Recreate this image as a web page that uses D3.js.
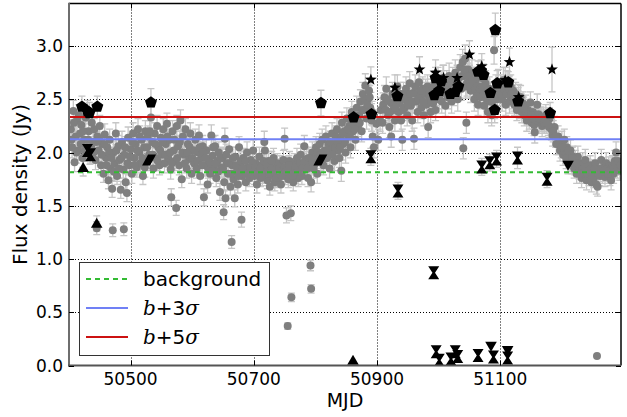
<!DOCTYPE html>
<html>
<head>
<meta charset="utf-8">
<script src="https://cdn.jsdelivr.net/npm/d3@7"></script>
<style>
  body { margin: 0; background: #fff; }
  text { font-family: 'DejaVu Sans', sans-serif; fill: #000; }
</style>
</head>
<body>
<div id="chart"></div>
<script>
// ---- data ----
var xTicks = [50500, 50700, 50900, 51100];
var yTicks = [0, 0.5, 1.0, 1.5, 2.0, 2.5, 3.0];

// [MJD, flux (Jy), error]
var grayPoints = [
  [50403,2.22,.09],[50405,2.05,.1],[50407,2.39,.1],[50409,1.91,.09],[50411,2.15,.1],[50413,2.30,.1],[50415,2.02,.09],
  [50418,2.18,.1],[50420,2.26,.1],[50422,1.95,.09],[50425,2.12,.1],[50427,2.33,.1],[50429,2.05,.1],[50432,2.20,.1],
  [50434,1.98,.09],[50437,2.28,.1],[50439,2.10,.1],[50441,2.22,.1],[50443,1.93,.09],[50445,1.29,.06],[50446,2.15,.1],
  [50448,2.02,.1],[50450,2.25,.1],[50452,1.88,.09],[50454,2.08,.1],[50456,1.80,.08],[50458,2.17,.1],[50460,1.95,.09],
  [50462,2.05,.1],[50464,1.74,.08],[50466,2.12,.1],[50468,1.85,.09],[50470,1.66,.08],[50471,1.27,.06],[50472,2.00,.1],
  [50474,1.90,.09],[50476,2.18,.1],[50478,1.78,.08],[50480,2.06,.1],[50482,1.93,.09],[50484,1.65,.08],[50486,2.10,.1],
  [50488,1.84,.08],[50489,1.28,.06],[50490,1.98,.09],[50492,1.72,.08],[50494,1.62,.08],[50496,2.14,.1],[50498,1.88,.09],
  [50500,2.03,.1],[50502,1.80,.09],[50504,2.18,.1],[50506,1.95,.09],[50508,2.08,.1],[50510,1.86,.09],[50512,2.22,.1],
  [50514,2.00,.1],[50516,1.90,.09],[50518,2.12,.1],[50520,1.78,.08],[50522,2.05,.1],[50524,2.20,.1],[50526,1.92,.09],
  [50528,2.15,.1],[50530,1.98,.1],[50533,2.33,.1],[50535,2.10,.1],[50537,1.85,.09],[50539,2.18,.1],[50541,1.95,.09],
  [50543,2.25,.1],[50545,2.05,.1],[50547,1.88,.09],[50549,2.14,.1],[50551,1.98,.09],[50553,2.22,.1],[50555,1.90,.09],
  [50557,2.08,.1],[50559,2.27,.1],[50561,1.95,.09],[50563,2.12,.1],[50565,1.84,.09],[50566,1.58,.08],[50568,2.20,.1],
  [50570,2.02,.1],[50572,1.92,.09],[50574,1.48,.07],[50575,2.25,.1],[50577,2.06,.1],[50579,1.88,.09],[50581,2.30,.1],
  [50583,1.75,.08],[50585,2.15,.1],[50587,1.98,.09],[50589,2.22,.1],[50591,1.85,.09],[50593,2.08,.1],[50595,1.94,.09],
  [50597,2.18,.1],[50599,1.80,.09],[50601,2.02,.1],[50603,1.90,.09],[50605,2.12,.1],[50607,1.85,.09],[50609,2.00,.1],
  [50611,2.16,.1],[50613,1.78,.08],[50615,1.95,.09],[50617,2.06,.1],[50619,1.58,.08],[50621,1.88,.09],[50623,2.02,.1],
  [50625,1.70,.08],[50627,1.93,.09],[50629,1.80,.09],[50631,2.16,.1],[50633,1.97,.09],[50635,1.85,.09],[50637,2.06,.1],
  [50639,1.76,.08],[50641,1.92,.09],[50643,2.00,.1],[50645,1.63,.08],[50647,1.86,.09],[50649,1.95,.09],[50651,1.44,.07],
  [50652,1.72,.08],[50653,2.13,.1],[50654,1.57,.08],[50656,1.90,.09],[50658,1.80,.09],[50660,2.03,.1],[50662,1.68,.08],
  [50664,1.16,.06],[50665,1.88,.09],[50667,1.75,.08],[50669,1.57,.08],[50670,1.96,.09],[50672,1.82,.09],[50674,1.70,.08],
  [50676,2.05,.1],[50678,1.88,.09],[50680,1.37,.07],[50681,1.78,.08],[50683,1.95,.09],[50685,1.84,.09],[50687,1.72,.08],
  [50689,2.00,.1],[50691,1.86,.09],[50693,1.76,.08],[50695,1.93,.09],[50697,1.82,.09],[50699,2.02,.1],[50701,1.78,.08],
  [50703,1.90,.09],[50705,1.70,.08],[50707,1.85,.09],[50709,1.96,.09],[50711,1.76,.08],[50713,1.88,.09],[50715,1.80,.09],
  [50717,2.10,.1],[50718,2.02,.1],[50720,1.83,.09],[50722,1.74,.08],[50724,1.92,.09],[50726,1.68,.08],[50728,1.86,.09],
  [50730,1.78,.08],[50732,1.95,.09],[50734,1.72,.08],[50736,1.84,.09],[50738,1.90,.09],[50740,1.76,.08],[50742,1.88,.09],
  [50744,1.70,.08],[50746,1.82,.09],[50748,1.93,.09],[50750,2.13,.1],[50751,1.78,.08],[50753,1.41,.07],[50754,1.87,.09],
  [50755,0.37,.03],[50756,1.75,.08],[50758,1.92,.09],[50760,1.43,.07],[50761,0.64,.04],[50762,1.82,.09],[50764,1.72,.08],
  [50766,1.90,.09],[50768,1.80,.09],[50770,1.95,.09],[50772,1.76,.08],[50774,1.86,.09],[50776,1.98,.1],[50778,1.78,.08],
  [50780,1.90,.09],[50782,2.06,.1],[50784,1.84,.09],[50786,1.94,.09],[50788,1.76,.08],[50790,1.88,.09],[50792,0.94,.05],
  [50793,0.72,.04],[50793,1.72,.09],[50795,2.00,.1],[50797,1.85,.09],[50799,1.95,.09],[50801,2.05,.1],[50803,1.80,.09],
  [50805,1.98,.09],[50807,2.08,.1],[50809,1.92,.09],[50811,2.12,.1],[50813,1.88,.09],[50815,2.02,.1],[50817,2.15,.1],
  [50819,1.95,.09],[50821,2.08,.1],[50823,1.85,.09],[50825,2.00,.1],[50827,2.18,.1],[50829,2.05,.1],[50831,1.92,.09],
  [50833,2.15,.1],[50835,2.22,.1],[50837,2.02,.1],[50839,1.95,.09],[50841,2.12,.1],[50842,1.83,.1],[50843,2.28,.1],
  [50845,2.08,.1],[50847,2.20,.1],[50849,2.00,.1],[50851,2.32,.1],[50853,2.15,.1],[50855,2.25,.1],[50857,2.05,.1],
  [50859,2.38,.1],[50861,2.20,.1],[50863,2.30,.1],[50865,2.12,.1],[50867,2.42,.11],[50869,2.25,.1],[50871,2.35,.1],
  [50873,2.48,.11],[50875,2.20,.1],[50877,2.55,.11],[50879,2.40,.1],[50881,2.63,.11],[50883,2.32,.1],[50885,2.50,.11],
  [50887,2.58,.11],[50889,2.42,.1],[50891,2.30,.1],[50893,2.15,.1],[50895,2.05,.1],[50899,2.27,.1],[50902,2.12,.1],
  [50906,2.40,.11],[50909,2.28,.1],[50912,2.52,.11],[50915,2.60,.11],[50918,2.35,.1],[50920,2.24,.1],[50922,2.47,.11],
  [50923,2.15,.1],[50925,2.55,.11],[50927,2.40,.1],[50929,2.30,.1],[50931,2.50,.11],[50933,2.62,.11],[50935,2.38,.1],
  [50937,2.46,.11],[50939,2.30,.1],[50941,2.12,.1],[50943,2.55,.11],[50945,2.42,.1],[50947,2.60,.11],[50949,2.35,.1],
  [50951,2.50,.11],[50953,2.65,.11],[50955,2.44,.1],[50957,2.30,.1],[50959,2.56,.11],[50960,2.13,.1],[50962,2.62,.11],
  [50964,2.48,.11],[50966,2.38,.1],[50968,2.66,.11],[50970,2.52,.11],[50972,2.42,.1],[50974,2.60,.11],[50976,2.35,.1],
  [50978,2.55,.11],[50980,2.45,.1],[50982,2.62,.11],[50983,2.24,.1],[50985,2.50,.11],[50987,2.38,.1],[50989,2.58,.11],
  [50991,2.46,.1],[50993,2.64,.11],[50995,2.40,.1],[50997,2.55,.11],[50999,2.68,.12],[51001,2.52,.11],[51003,2.62,.11],
  [51005,2.48,.11],[51007,2.70,.12],[51009,2.56,.11],[51011,2.44,.1],[51013,2.65,.12],[51015,2.52,.11],[51017,2.72,.12],
  [51019,2.58,.11],[51021,2.48,.11],[51023,2.68,.12],[51025,2.55,.11],[51027,2.75,.12],[51029,2.62,.11],[51031,2.50,.11],
  [51033,2.70,.12],[51035,2.80,.12],[51037,2.60,.11],[51039,2.85,.12],[51040,2.04,.1],[51041,2.72,.12],[51043,2.88,.13],
  [51045,2.28,.1],[51046,2.65,.12],[51048,2.78,.12],[51050,2.70,.12],[51052,2.58,.11],[51054,2.75,.12],[51056,2.62,.11],
  [51058,2.50,.11],[51060,2.68,.12],[51062,2.55,.11],[51064,2.45,.1],[51066,2.62,.11],[51068,2.52,.11],[51070,2.70,.12],
  [51072,2.58,.11],[51074,2.44,.1],[51076,2.65,.12],[51078,2.50,.11],[51080,2.38,.1],[51082,2.60,.11],[51084,2.48,.11],
  [51086,2.35,.1],[51088,2.55,.11],[51090,2.96,.13],[51091,2.42,.1],[51093,2.62,.11],[51095,2.50,.11],[51097,2.66,.12],
  [51099,2.55,.11],[51101,2.62,.11],[51103,2.50,.11],[51105,2.68,.12],[51107,2.58,.11],[51109,2.45,.1],[51111,2.65,.12],
  [51113,2.55,.11],[51115,2.48,.11],[51117,2.62,.11],[51119,2.52,.11],[51121,2.58,.11],[51123,2.45,.1],[51125,2.55,.11],
  [51127,2.40,.1],[51129,2.50,.11],[51131,2.42,.1],[51133,2.52,.11],[51135,2.38,.1],[51137,2.46,.11],[51139,2.35,.1],
  [51141,2.44,.1],[51143,2.30,.1],[51145,2.40,.1],[51147,2.32,.1],[51149,2.47,.1],[51151,2.28,.1],[51153,2.38,.1],
  [51155,2.26,.1],[51156,2.19,.1],[51158,2.35,.1],[51160,2.45,.1],[51162,2.36,.1],[51164,2.28,.1],[51166,2.33,.1],
  [51168,2.25,.1],[51170,2.32,.1],[51172,2.28,.1],[51174,2.35,.1],[51176,2.30,.1],[51178,2.26,.1],[51180,2.32,.1],
  [51183,2.22,.1],[51185,2.16,.1],[51188,2.24,.1],[51191,2.08,.1],[51194,2.15,.1],[51197,2.02,.1],[51200,2.10,.1],
  [51202,1.98,.1],[51204,2.12,.1],[51206,2.00,.1],[51208,2.05,.1],[51211,1.95,.1],[51214,2.02,.1],[51216,1.90,.1],
  [51218,1.96,.1],[51220,1.85,.09],[51222,1.92,.1],[51224,1.80,.09],[51226,1.96,.1],[51228,1.84,.09],[51230,1.87,.09],
  [51232,1.76,.09],[51234,1.90,.1],[51236,1.80,.09],[51238,1.93,.1],[51240,1.74,.09],[51242,1.85,.09],[51244,1.78,.09],
  [51246,1.88,.09],[51248,1.72,.09],[51250,1.82,.09],[51252,1.76,.09],[51254,1.90,.1],[51256,1.70,.09],[51257,0.09,0],
  [51258,1.68,.09],[51260,1.84,.09],[51262,1.78,.09],[51264,1.93,.1],[51266,1.80,.09],[51268,1.86,.09],[51270,1.77,.09],
  [51272,1.90,.1],[51274,1.82,.09],[51276,1.87,.09],[51278,1.78,.09],[51280,1.74,.09],[51282,1.88,.09],[51284,1.80,.09],
  [51286,1.92,.1],[51288,2.00,.1],[51290,1.85,.09],[51292,1.90,.1],[51294,1.83,.09],
  // in-between nights filling the dense band
  [50404,2.12,.1],[50408,2.28,.1],[50412,2.00,.1],[50416,2.35,.1],[50419,2.08,.1],[50423,2.20,.1],[50426,2.02,.1],
  [50431,2.12,.1],[50436,2.05,.1],[50440,2.00,.1],[50444,2.10,.1],[50449,2.12,.1],[50453,1.98,.1],[50457,2.08,.1],
  [50461,1.88,.09],[50465,2.00,.1],[50469,1.95,.1],[50473,1.82,.09],[50477,2.02,.1],[50481,1.85,.09],[50485,1.95,.1],
  [50491,2.05,.1],[50495,1.90,.09],[50499,1.96,.1],[50503,2.10,.1],[50507,1.88,.09],[50511,2.02,.1],[50515,2.15,.1],
  [50519,1.95,.1],[50523,1.86,.09],[50527,2.05,.1],[50531,2.20,.1],[50536,1.98,.1],[50540,2.08,.1],[50544,1.92,.09],
  [50548,2.02,.1],[50552,2.10,.1],[50556,1.98,.1],[50560,2.15,.1],[50564,2.00,.1],[50567,1.90,.09],[50571,2.12,.1],
  [50576,1.95,.1],[50580,2.10,.1],[50584,2.00,.1],[50588,1.90,.09],[50592,2.00,.1],[50596,2.05,.1],[50600,1.95,.1],
  [50604,2.02,.1],[50608,1.92,.09],[50612,2.05,.1],[50616,1.88,.09],[50618,2.00,.1],[50622,1.95,.1],[50626,1.85,.09],
  [50630,1.90,.09],[50634,2.05,.1],[50638,1.90,.09],[50642,1.82,.09],[50646,1.95,.1],[50650,1.85,.09],[50655,1.98,.1],
  [50659,1.90,.09],[50663,1.80,.09],[50666,1.95,.1],[50671,1.88,.09],[50675,1.78,.09],[50679,1.92,.09],[50682,1.85,.09],
  [50686,1.92,.09],[50690,1.80,.09],[50694,1.86,.09],[50698,1.90,.09],[50702,1.86,.09],[50706,1.80,.09],[50710,1.85,.09],
  [50714,1.78,.09],[50716,1.92,.09],[50721,1.90,.09],[50725,1.80,.09],[50729,1.92,.09],[50733,1.82,.09],[50737,1.76,.09],
  [50741,1.85,.09],[50745,1.78,.09],[50749,1.86,.09],[50752,1.82,.09],[50757,1.88,.09],[50763,1.78,.09],[50767,1.85,.09],
  [50771,1.82,.09],[50775,1.90,.09],[50779,1.85,.09],[50783,1.92,.09],[50787,1.85,.09],[50789,1.95,.1],[50796,1.92,.1],
  [50800,1.90,.1],[50804,2.00,.1],[50808,1.98,.1],[50812,2.00,.1],[50816,1.95,.1],[50820,2.02,.1],[50824,2.10,.1],
  [50828,1.98,.1],[50832,2.05,.1],[50836,2.10,.1],[50840,2.05,.1],[50844,2.18,.1],[50848,2.10,.1],[50852,2.22,.1],
  [50856,2.15,.1],[50860,2.28,.1],[50864,2.22,.1],[50868,2.32,.1],[50872,2.28,.1],[50876,2.40,.1],[50880,2.50,.11],
  [50884,2.45,.11],[50888,2.52,.11],[50892,2.38,.1],[50905,2.30,.1],[50910,2.45,.11],[50914,2.40,.1],[50917,2.50,.11],
  [50921,2.38,.1],[50926,2.45,.11],[50930,2.42,.1],[50934,2.50,.11],[50938,2.55,.11],[50942,2.40,.1],[50946,2.50,.11],
  [50950,2.45,.11],[50954,2.55,.11],[50958,2.48,.11],[50963,2.55,.11],[50967,2.50,.11],[50971,2.58,.11],[50975,2.48,.11],
  [50979,2.58,.11],[50984,2.55,.11],[50988,2.48,.11],[50992,2.55,.11],[50996,2.50,.11],[51002,2.58,.11],[51006,2.60,.11],
  [51010,2.62,.11],[51014,2.58,.11],[51018,2.62,.11],[51022,2.60,.11],[51026,2.62,.11],[51030,2.68,.12],[51034,2.62,.11],
  [51038,2.72,.12],[51042,2.78,.12],[51044,2.62,.11],[51047,2.72,.12],[51051,2.62,.11],[51055,2.68,.12],[51059,2.60,.11],
  [51063,2.62,.11],[51067,2.60,.11],[51071,2.62,.11],[51075,2.55,.11],[51079,2.58,.11],[51083,2.55,.11],[51087,2.48,.11],
  [51092,2.55,.11],[51096,2.58,.11],[51102,2.55,.11],[51106,2.60,.11],[51110,2.55,.11],[51114,2.60,.11],[51118,2.55,.11],
  [51122,2.50,.11],[51126,2.48,.11],[51130,2.45,.1],[51134,2.45,.1],[51138,2.42,.1],[51142,2.38,.1],[51146,2.36,.1],
  [51150,2.35,.1],[51154,2.32,.1],[51159,2.30,.1],[51163,2.32,.1],[51167,2.30,.1],[51171,2.28,.1],[51175,2.28,.1],
  [51179,2.24,.1],[51186,2.20,.1],[51190,2.15,.1],[51195,2.08,.1],[51199,2.05,.1],[51203,2.05,.1],[51207,1.95,.1],
  [51210,2.02,.1],[51213,1.92,.1],[51217,1.95,.1],[51221,1.88,.09],[51225,1.90,.09],[51229,1.80,.09],[51233,1.84,.09],
  [51237,1.86,.09],[51241,1.80,.09],[51245,1.84,.09],[51249,1.78,.09],[51253,1.84,.09],[51259,1.80,.09],[51263,1.85,.09],
  [51267,1.82,.09],[51271,1.84,.09],[51275,1.80,.09],[51279,1.84,.09],[51283,1.86,.09],[51287,1.88,.09],[51291,1.92,.1],
  [51295,1.88,.09]
];

var pentagons = [
  [50421,2.43,.1],[50430,2.39,.1],[50433,2.37,.1],[50446,2.43,.1],[50533,2.47,.13],[50809,2.465,.12],
  [50862,2.33,.1],[50891,2.36,.1],[50933,2.53,.1],[50993,2.54,.1],[50995,2.70,.1],[51001,2.58,.1],
  [51004,2.67,.1],[51019,2.55,.1],[51027,2.57,.1],[51032,2.62,.1],[51064,2.76,.1],[51069,2.77,.1],
  [51073,2.73,.1],[51084,2.56,.1],[51091,2.40,.12],[51092,3.15,.16],[51095,2.65,.12],[51113,2.66,.1],
  [51129,2.48,.1],[51181,2.37,.1]
];
var stars = [
  [50890,2.685,.12],[50929,2.61,.12],[50969,2.78,.12],[50995,2.75,.12],[51008,2.70,.12],[51030,2.70,.12],
  [51050,2.92,.13],[51070,2.81,.12],[51108,2.68,.12],[51115,2.85,.13],[51130,2.52,.12],[51184,2.78,.21]
];
var trianglesUp = [[50423,1.86,.08],[50445,1.335,.07],[50861,0.05,0]];
var trianglesDown = [[51085,0.18,0],[51112,0.14,0],[51210,1.88,.08]];
var hourglasses = [
  [50430,2.02,.08],[50435,1.98,.08],[50890,1.96,.08],[50934,1.64,.08],[50992,0.87,.05],
  [50996,0.13,0],[51001,0.05,0],[51020,0.06,0],[51027,0.13,0],[51031,0.085,0],[51064,0.094,0],
  [51089,0.08,0],[51112,0.07,0],[51070,1.865,.08],[51083,1.905,.08],[51094,1.94,.08],[51128,1.95,.1],
  [51176,1.75,.08]
];
var slanted = [[50530,1.93,.08],[50808,1.93,.08]];

var levelNames = ['background', 'b+3σ', 'b+5σ'];
var levelValues = [1.815, 2.125, 2.334];
var levelColors = ['#33bb33', '#7080f5', '#cc1111'];

// ---- layout ----
var W = 627, H = 417;
var pLeft = 69, pRight = 621, pTop = 3.5, pBottom = 365.5;

var svg = d3.select('#chart').append('svg')
    .attr('width', W)
    .attr('height', H);

svg.append('rect').attr('width', W).attr('height', H).attr('fill', '#fff');

var x = d3.scaleLinear().domain([50400, 51296]).range([pLeft, pRight]);
var y = d3.scaleLinear().domain([0, 3.4]).range([pBottom, pTop]);

svg.append('clipPath').attr('id', 'clip')
  .append('rect')
    .attr('x', pLeft).attr('y', pTop)
    .attr('width', pRight - pLeft).attr('height', pBottom - pTop);

// grid
var grid = svg.append('g').attr('stroke', '#000').attr('stroke-width', 1).attr('stroke-dasharray', '1,2');
grid.selectAll('.gx').data(xTicks).enter().append('line')
    .attr('x1', function(d) { return Math.round(x(d)) + 0.5; })
    .attr('x2', function(d) { return Math.round(x(d)) + 0.5; })
    .attr('y1', pTop).attr('y2', pBottom);
grid.selectAll('.gy').data(yTicks.slice(1)).enter().append('line')
    .attr('y1', function(d) { return Math.round(y(d)) + 0.5; })
    .attr('y2', function(d) { return Math.round(y(d)) + 0.5; })
    .attr('x1', pLeft).attr('x2', pRight);

var plot = svg.append('g').attr('clip-path', 'url(#clip)');

function errorBars(g, data) {
  var eb = g.append('g').attr('stroke', '#c6c6c6').attr('stroke-width', 1.3)
    .selectAll('g').data(data.filter(function(d) { return d[2] > 0; }))
    .enter().append('g');
  eb.append('line')
      .attr('x1', function(d) { return x(d[0]); })
      .attr('x2', function(d) { return x(d[0]); })
      .attr('y1', function(d) { return y(d[1] - d[2]); })
      .attr('y2', function(d) { return y(d[1] + d[2]); });
  [-1, 1].forEach(function(s) {
    eb.append('line')
        .attr('x1', function(d) { return x(d[0]) - 3.5; })
        .attr('x2', function(d) { return x(d[0]) + 3.5; })
        .attr('y1', function(d) { return y(d[1] + s * d[2]); })
        .attr('y2', function(d) { return y(d[1] + s * d[2]); });
  });
}

var blackAll = pentagons.concat(stars, trianglesUp, trianglesDown, hourglasses, slanted);
errorBars(plot, grayPoints);
errorBars(plot, blackAll);

plot.append('g').selectAll('circle').data(grayPoints).enter().append('circle')
    .attr('cx', function(d) { return x(d[0]); })
    .attr('cy', function(d) { return y(d[1]); })
    .attr('r', 4)
    .attr('fill', '#7f7f7f');

// horizontal levels
plot.append('g').selectAll('line').data(levelValues).enter().append('line')
    .attr('x1', pLeft).attr('x2', pRight)
    .attr('y1', function(d) { return y(d); })
    .attr('y2', function(d) { return y(d); })
    .attr('stroke', function(d, i) { return levelColors[i]; })
    .attr('stroke-width', 2)
    .attr('stroke-dasharray', function(d, i) { return i === 0 ? '5,4' : null; });

// marker shapes
function polyPath(n, r1, r2) {
  var pts = [];
  var k = r2 ? n * 2 : n;
  for (var i = 0; i < k; i++) {
    var a = -Math.PI / 2 + i * 2 * Math.PI / k;
    var r = (r2 && i % 2) ? r2 : r1;
    pts.push([r * Math.cos(a), r * Math.sin(a)]);
  }
  return 'M' + pts.join('L') + 'Z';
}
var shapes = {
  pentagon: polyPath(5, 6.3),
  star: polyPath(5, 6.2, 2.6),
  up: 'M0,-5.5L5.8,4.5L-5.8,4.5Z',
  down: 'M0,5.5L5.8,-4.5L-5.8,-4.5Z',
  hourglass: 'M-5.5,-6.5L5.5,-6.5L1.3,0L5.5,6.5L-5.5,6.5L-1.3,0Z',
  slanted: 'M-1,-5.5L7,-5.5L1,5.5L-7,5.5Z'
};

function drawMarks(data, shape) {
  plot.append('g').selectAll('path').data(data).enter().append('path')
      .attr('d', shapes[shape])
      .attr('transform', function(d) { return 'translate(' + x(d[0]) + ',' + y(d[1]) + ')'; })
      .attr('fill', '#000');
}
drawMarks(hourglasses, 'hourglass');
drawMarks(slanted, 'slanted');
drawMarks(trianglesUp, 'up');
drawMarks(trianglesDown, 'down');
drawMarks(pentagons, 'pentagon');
drawMarks(stars, 'star');

// frame: left/bottom grey, top/right black
svg.append('line').attr('x1', pLeft).attr('x2', pRight).attr('y1', pTop).attr('y2', pTop)
    .attr('stroke', '#000').attr('stroke-width', 1.5);
svg.append('line').attr('x1', pRight).attr('x2', pRight).attr('y1', pTop).attr('y2', pBottom)
    .attr('stroke', '#000').attr('stroke-width', 1.5);
svg.append('line').attr('x1', pLeft).attr('x2', pLeft).attr('y1', pTop - 0.75).attr('y2', pBottom + 1)
    .attr('stroke', '#6e6e6e').attr('stroke-width', 2);
svg.append('line').attr('x1', pLeft - 1).attr('x2', pRight).attr('y1', pBottom).attr('y2', pBottom)
    .attr('stroke', '#555').attr('stroke-width', 2);

// inward ticks on all sides
var ticks = svg.append('g').attr('stroke', '#000').attr('stroke-width', 1);
xTicks.forEach(function(t) {
  var px = Math.round(x(t)) + 0.5;
  ticks.append('line').attr('x1', px).attr('x2', px).attr('y1', pBottom).attr('y2', pBottom - 5);
  ticks.append('line').attr('x1', px).attr('x2', px).attr('y1', pTop).attr('y2', pTop + 5);
});
yTicks.forEach(function(t) {
  var py = Math.round(y(t)) + 0.5;
  ticks.append('line').attr('x1', pLeft).attr('x2', pLeft + 5).attr('y1', py).attr('y2', py);
  ticks.append('line').attr('x1', pRight).attr('x2', pRight - 5).attr('y1', py).attr('y2', py);
});

// tick labels
svg.append('g').selectAll('text').data(xTicks).enter().append('text')
    .attr('x', function(d) { return x(d); })
    .attr('y', 385)
    .attr('text-anchor', 'middle')
    .attr('font-size', 17)
    .text(function(d) { return d; });
svg.append('g').selectAll('text').data(yTicks).enter().append('text')
    .attr('x', 63)
    .attr('y', function(d) { return y(d); })
    .attr('dy', '0.36em')
    .attr('text-anchor', 'end')
    .attr('font-size', 17)
    .text(d3.format('.1f'));

// axis titles
svg.append('text')
    .attr('x', (pLeft + pRight) / 2)
    .attr('y', 407)
    .attr('text-anchor', 'middle')
    .attr('font-size', 19)
    .text('MJD');
svg.append('text')
    .attr('transform', 'translate(27,' + (pBottom + pTop) / 2 + ') rotate(-90)')
    .attr('text-anchor', 'middle')
    .attr('font-size', 20)
    .text('Flux density (Jy)');

// legend
var legend = svg.append('g');
legend.append('rect')
    .attr('x', 79.5).attr('y', 262.5)
    .attr('width', 190).attr('height', 93)
    .attr('fill', '#fff')
    .attr('stroke', '#333')
    .attr('stroke-width', 1);
var rowY = [279, 308, 337];
levelNames.forEach(function(name, i) {
  legend.append('line')
      .attr('x1', 86).attr('x2', 128)
      .attr('y1', rowY[i]).attr('y2', rowY[i])
      .attr('stroke', levelColors[i])
      .attr('stroke-width', 2)
      .attr('stroke-dasharray', i === 0 ? '5,4' : null);
  var t = legend.append('text')
      .attr('x', 143)
      .attr('y', rowY[i] + 7)
      .attr('font-size', 20);
  if (i === 0) {
    t.text(name);
  } else {
    t.append('tspan').attr('font-family', 'DejaVu Serif').attr('font-style', 'italic').text('b');
    t.append('tspan').text(name.slice(1, 3));
    t.append('tspan').attr('font-family', 'DejaVu Serif').attr('font-style', 'italic').text('σ');
  }
});
</script>
</body>
</html>
